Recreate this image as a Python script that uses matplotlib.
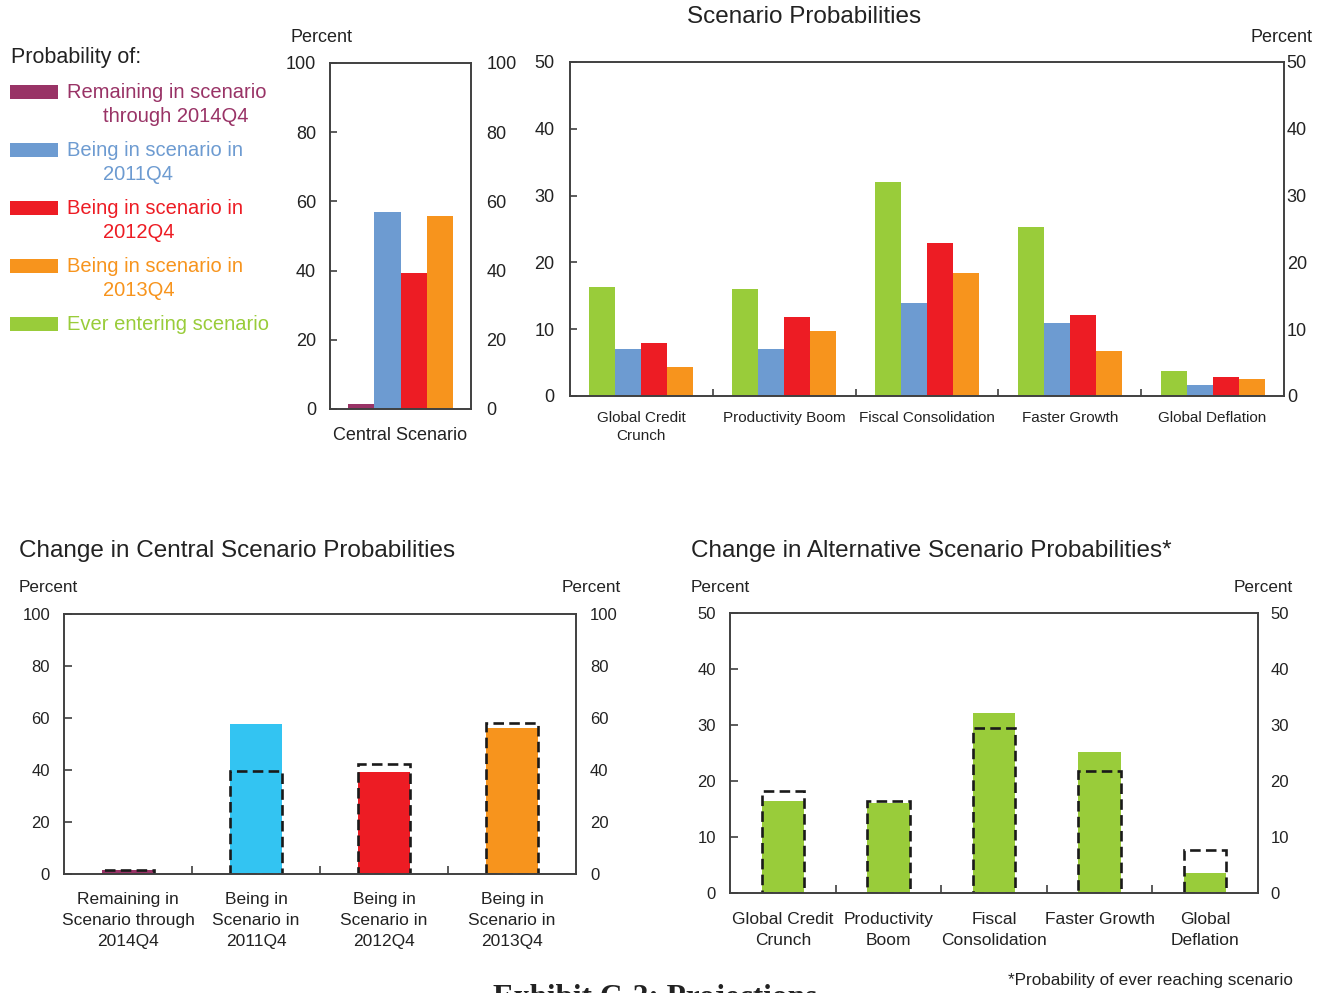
import matplotlib
matplotlib.use("Agg")
import matplotlib.pyplot as plt
import numpy as np
from matplotlib.patches import Rectangle
from matplotlib.lines import Line2D

# ---- data ------------------------------------------------------------
legend_labels = [
    ("Remaining in scenario", "through 2014Q4"),
    ("Being in scenario in", "2011Q4"),
    ("Being in scenario in", "2012Q4"),
    ("Being in scenario in", "2013Q4"),
    ("Ever entering scenario", None),
]

central_values = [1.5, 57.0, 39.3, 55.8]  # remaining, 2011Q4, 2012Q4, 2013Q4

alt_categories = ["Global Credit\nCrunch", "Productivity Boom", "Fiscal Consolidation",
                  "Faster Growth", "Global Deflation"]
alt_ever = [16.3, 16.0, 32.0, 25.3, 3.7]
alt_2011 = [7.0, 7.0, 13.9, 11.0, 1.6]
alt_2012 = [8.0, 11.9, 22.9, 12.1, 2.8]
alt_2013 = [4.3, 9.8, 18.4, 6.7, 2.6]

chg_central_labels = ["Remaining in\nScenario through\n2014Q4", "Being in\nScenario in\n2011Q4",
                      "Being in\nScenario in\n2012Q4", "Being in\nScenario in\n2013Q4"]
chg_central_now = [1.4, 57.6, 39.1, 56.0]
chg_central_jan = [1.5, 39.7, 42.4, 58.2]

chg_alt_labels = ["Global Credit\nCrunch", "Productivity\nBoom", "Fiscal\nConsolidation",
                  "Faster Growth", "Global\nDeflation"]
chg_alt_now = [16.4, 16.1, 32.1, 25.2, 3.6]
chg_alt_jan = [18.3, 16.4, 29.5, 21.8, 7.7]

# ---- style -----------------------------------------------------------
PURPLE = "#993366"
BLUE = "#6D9BD1"
RED = "#ED1C24"
ORANGE = "#F7941D"
GREEN = "#99CC3A"
CYAN = "#33C4F2"
SPINE = "#404040"
TXT = "#222222"

plt.rcParams["font.family"] = ["Liberation Sans", "DejaVu Sans"]
W, H = 1327, 993
fig = plt.figure(figsize=(W / 100, H / 100), dpi=100)


def rect(l, t, r, b):
    return [l / W, 1 - b / H, (r - l) / W, (b - t) / H]


# overlay for free text and legend swatches (pixel coords)
ov = fig.add_axes([0, 0, 1, 1])
ov.set_xlim(0, W)
ov.set_ylim(H, 0)
ov.axis("off")


def style_axes(ax, ymax, step, fs, lpad, rpad, ylen=5):
    ax.set_ylim(0, ymax)
    ax.set_yticks(np.arange(0, ymax + 1, step))
    for s in ax.spines.values():
        s.set_color(SPINE)
        s.set_linewidth(1.4)
    ax.tick_params(axis="y", which="major", direction="in", length=ylen, width=1.2,
                   color=SPINE, labelsize=fs, labelcolor=TXT, left=True, right=True,
                   labelleft=True, labelright=False, pad=lpad)
    # right-side labels via twin axis
    tw = ax.twinx()
    tw.set_ylim(0, ymax)
    tw.set_yticks(np.arange(0, ymax + 1, step))
    tw.tick_params(axis="y", direction="in", length=0, labelsize=fs, labelcolor=TXT, pad=rpad)
    for s in tw.spines.values():
        s.set_visible(False)
    return tw


def set_linespacing(ax, ls):
    for t in ax.get_xticklabels():
        t.set_linespacing(ls)


# ---- top left: central scenario ---------------------------------------
ax_c = fig.add_axes(rect(330, 63, 471, 409))
style_axes(ax_c, 100, 20, 13, 10, 11)
cw = 0.186
for i, (v, c) in enumerate(zip(central_values, [PURPLE, BLUE, RED, ORANGE])):
    ax_c.bar((i - 1.5) * cw, v, cw, color=c, linewidth=0)
ax_c.set_xlim(-0.5, 0.5)
ax_c.set_xticks([0])
ax_c.set_xticklabels(["Central Scenario"], fontsize=13, color=TXT)
ax_c.tick_params(axis="x", length=0, pad=13)
ov.text(321, 37, "Percent", fontsize=13, color=TXT, ha="center", va="center")

# legend on the far left
ov.text(11, 57, "Probability of:", fontsize=15.5, color=TXT, ha="left", va="center")
leg_colors = [PURPLE, BLUE, RED, ORANGE, GREEN]
for k, ((l1, l2), c) in enumerate(zip(legend_labels, leg_colors)):
    y = 92 + k * 58
    ov.add_patch(Rectangle((10, y - 7), 48, 14, color=c, linewidth=0))
    ov.text(67, y, l1, fontsize=14.5, color=c, ha="left", va="center")
    if l2:
        ov.text(103, y + 24, l2, fontsize=14.5, color=c, ha="left", va="center")

# ---- top right: alternative scenarios --------------------------------
ax_t = fig.add_axes(rect(570, 62, 1284, 396))
style_axes(ax_t, 50, 10, 13, 11, 2)
x = np.arange(len(alt_categories))
bw = 0.182
for i, (vals, c) in enumerate(zip([alt_ever, alt_2011, alt_2012, alt_2013],
                                  [GREEN, BLUE, RED, ORANGE])):
    ax_t.bar(x + (i - 1.5) * bw, vals, bw, color=c, linewidth=0)
ax_t.set_xlim(-0.5, len(x) - 0.5)
ax_t.set_xticks(x)
ax_t.set_xticklabels(alt_categories, fontsize=11, color=TXT)
set_linespacing(ax_t, 1.35)
ax_t.set_xticks(x[:-1] + 0.5, minor=True)
ax_t.tick_params(axis="x", which="major", length=0, pad=11)
ax_t.tick_params(axis="x", which="minor", direction="in", length=5, width=1.2, color=SPINE)
ov.text(804, 17, "Scenario Probabilities", fontsize=17.5, color=TXT, ha="center", va="center")
ov.text(1281, 37, "Percent", fontsize=13, color=TXT, ha="center", va="center")

# ---- bottom left: change in central ------------------------------------
dash_kw = dict(fill=False, edgecolor="#1a1a1a", linewidth=1.9, linestyle=(0, (4, 2)))

ax_bl = fig.add_axes(rect(64, 614, 576, 874))
style_axes(ax_bl, 100, 20, 12, 10, 10, ylen=6)
xb = np.arange(len(chg_central_labels))
w2 = 0.41
ax_bl.bar(xb, chg_central_now, w2, color=[PURPLE, CYAN, RED, ORANGE], linewidth=0)
ax_bl.bar(xb, chg_central_jan, w2, **dash_kw)
ax_bl.set_xlim(-0.5, len(xb) - 0.5)
ax_bl.set_xticks(xb)
ax_bl.set_xticklabels(chg_central_labels, fontsize=12.5, color=TXT)
set_linespacing(ax_bl, 1.5)
ax_bl.set_xticks(xb[:-1] + 0.5, minor=True)
ax_bl.tick_params(axis="x", which="major", length=0, pad=13)
ax_bl.tick_params(axis="x", which="minor", direction="in", length=6, width=1.2, color=SPINE)
ov.text(19, 551, "Change in Central Scenario Probabilities", fontsize=17.5, color=TXT,
        ha="left", va="center")
ov.text(48, 588, "Percent", fontsize=12.3, color=TXT, ha="center", va="center")
ov.text(591, 588, "Percent", fontsize=12.3, color=TXT, ha="center", va="center")
ov.add_line(Line2D([73, 117], [633, 633], color="#1a1a1a", linewidth=1.3, dashes=(3, 2)))
ov.text(122, 633, "January Blackbook", fontsize=10.9, color=TXT, ha="left", va="center")

# ---- bottom right: change in alternatives ------------------------------
ax_br = fig.add_axes(rect(730, 613, 1258, 893))
style_axes(ax_br, 50, 10, 12, 10, 9, ylen=6)
xa = np.arange(len(chg_alt_labels))
ax_br.bar(xa, chg_alt_now, 0.4, color=GREEN, linewidth=0)
ax_br.bar(xa, chg_alt_jan, 0.4, **dash_kw)
ax_br.set_xlim(-0.5, len(xa) - 0.5)
ax_br.set_xticks(xa)
ax_br.set_xticklabels(chg_alt_labels, fontsize=12.5, color=TXT)
set_linespacing(ax_br, 1.5)
ax_br.set_xticks(xa[:-1] + 0.5, minor=True)
ax_br.tick_params(axis="x", which="major", length=0, pad=14)
ax_br.tick_params(axis="x", which="minor", direction="in", length=6, width=1.2, color=SPINE)
ov.text(691, 551, "Change in Alternative Scenario Probabilities*", fontsize=17.5, color=TXT,
        ha="left", va="center")
ov.text(720, 588, "Percent", fontsize=12.3, color=TXT, ha="center", va="center")
ov.text(1263, 588, "Percent", fontsize=12.3, color=TXT, ha="center", va="center")
ov.add_line(Line2D([736, 779], [633, 633], color="#1a1a1a", linewidth=1.3, dashes=(3, 2)))
ov.text(784, 633, "January Blackbook", fontsize=10.9, color=TXT, ha="left", va="center")

ov.text(1293, 981, "*Probability of ever reaching scenario", fontsize=12.3, color=TXT,
        ha="right", va="center")
# page heading below the chart, cut off by the bottom edge as in the source
ov.text(493, 1006, "Exhibit C-2: Projections", fontsize=22.5, color=TXT, ha="left",
        va="baseline", family=["Liberation Serif", "DejaVu Serif"], fontweight="bold")

fig.savefig("out.png", dpi=100)
